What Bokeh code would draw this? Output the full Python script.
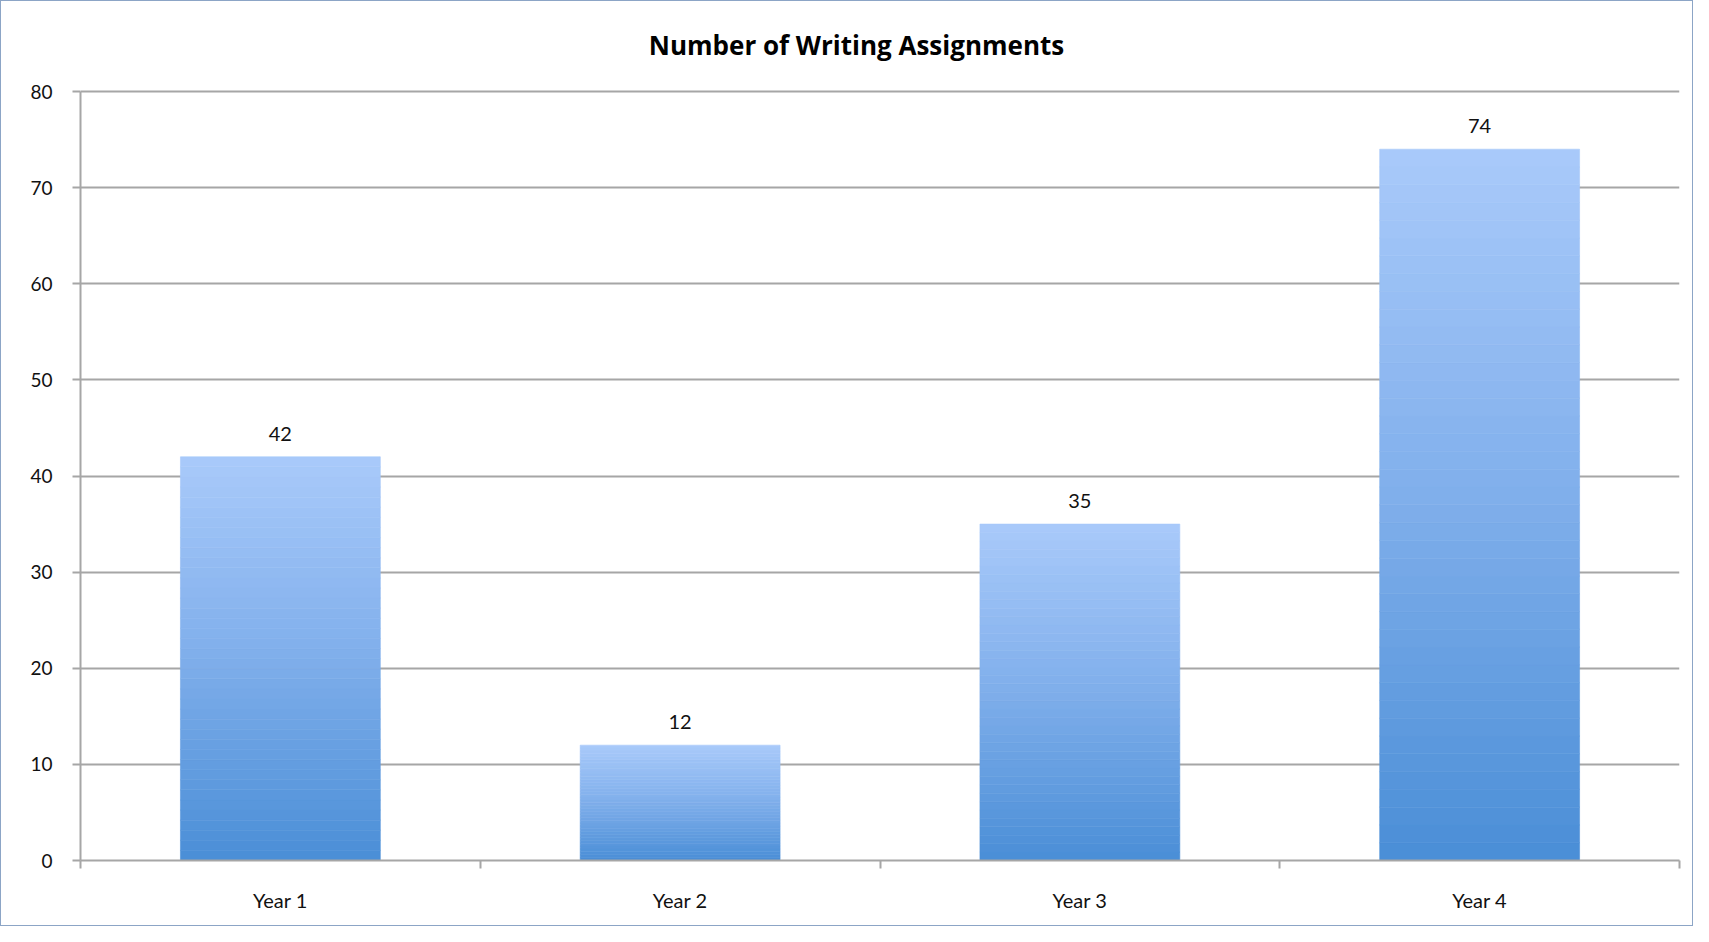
from bokeh.plotting import figure
from bokeh.models import ColumnDataSource, Range1d, FixedTicker, LabelSet, Label
from bokeh.core.properties import value
from bokeh.embed import file_html
from bokeh.resources import INLINE

title = "Number of Writing Assignments"
categories = ["Year 1", "Year 2", "Year 3", "Year 4"]
counts = [42, 12, 35, 74]
y_ticks = [0, 10, 20, 30, 40, 50, 60, 70, 80]
y_max = 80

FONT = "Lato"
TITLE_FONT = "Open Sans"
GRID = "#A6A6A6"
TOP_RGB = (169, 202, 250)
MID_RGB = (127, 174, 235)
BOT_RGB = (74, 142, 214)

PLOT_H = 769      # height of the 0..80 value area
TOP_EXTRA = 85    # room above the value area, kept inside the frame for the title
FRAME_W, FRAME_H = 1599, PLOT_H + TOP_EXTRA

p = figure(
    frame_width=FRAME_W, frame_height=FRAME_H,
    min_border_left=79, min_border_right=13, min_border_top=5, min_border_bottom=65,
    x_range=Range1d(0, len(categories)),
    y_range=Range1d(0, y_max * FRAME_H / PLOT_H),
    output_backend="svg", toolbar_location=None,
)
p.outline_line_color = None
p.background_fill_color = "white"
p.border_fill_color = "white"
p.styles = {"border": "1px solid #8CA5C6"}

# chart title, centred on the whole chart
p.add_layout(Label(x=776, y=PLOT_H + 47, x_units="screen", y_units="screen", text=title,
                   text_align="center", text_baseline="middle",
                   text_font=TITLE_FONT, text_font_style="bold",
                   text_font_size="26px", text_color="#000000"))

# gradient bars built from slices of each bar's own height
def lerp(a, b, t):
    return tuple(int(round(a[i] + (b[i] - a[i]) * t)) for i in range(3))

N = 40
xs, bots, tops, cols = [], [], [], []
for i, v in enumerate(counts):
    for k in range(N):
        t = (k + 0.5) / N  # 0 bottom, 1 top
        if t < 0.5:
            c = lerp(BOT_RGB, MID_RGB, t / 0.5)
        else:
            c = lerp(MID_RGB, TOP_RGB, (t - 0.5) / 0.5)
        xs.append(i + 0.5)
        bots.append(v * k / N)
        tops.append(v * (k + 1) / N)
        cols.append("#%02x%02x%02x" % c)

src = ColumnDataSource(dict(x=xs, bottom=bots, top=tops, color=cols))
p.vbar(x="x", bottom="bottom", top="top", width=0.5, fill_color="color",
       line_color="color", line_width=0.6, source=src)

lab_src = ColumnDataSource(dict(x=[i + 0.5 for i in range(len(counts))], y=counts,
                                text=[str(v) for v in counts]))
p.add_layout(LabelSet(x="x", y="y", text="text", source=lab_src, y_offset=16,
                      text_align="center", text_baseline="bottom",
                      text_font=value(FONT), text_font_size="20px", text_color="#111111"))

# y axis
p.yaxis.ticker = FixedTicker(ticks=y_ticks)
p.yaxis.bounds = (0, y_max)
p.yaxis.axis_line_color = GRID
p.yaxis.axis_line_width = 2
p.yaxis.major_tick_line_color = GRID
p.yaxis.major_tick_line_width = 2
p.yaxis.major_tick_out = 8
p.yaxis.major_tick_in = 0
p.yaxis.minor_tick_line_color = None
p.yaxis.major_label_standoff = 20
p.yaxis.major_label_text_font = FONT
p.yaxis.major_label_text_font_size = "19px"
p.yaxis.major_label_text_color = "#111111"

# x axis: labels at category centres, tick marks at category boundaries
p.xaxis.ticker = FixedTicker(ticks=[i + 0.5 for i in range(len(categories))],
                             minor_ticks=list(range(len(categories) + 1)))
p.xaxis.major_label_overrides = {i + 0.5: c for i, c in enumerate(categories)}
p.xaxis.axis_line_color = GRID
p.xaxis.axis_line_width = 2
p.xaxis.major_tick_line_color = None
p.xaxis.minor_tick_line_color = GRID
p.xaxis.minor_tick_line_width = 2
p.xaxis.minor_tick_out = 8
p.xaxis.minor_tick_in = 0
p.xaxis.major_label_standoff = 19
p.xaxis.major_label_text_font = FONT
p.xaxis.major_label_text_font_size = "20px"
p.xaxis.major_label_text_color = "#111111"

p.xgrid.grid_line_color = None
p.ygrid.grid_line_color = GRID
p.ygrid.grid_line_width = 2

open("out.html", "w").write(file_html(p, INLINE))
